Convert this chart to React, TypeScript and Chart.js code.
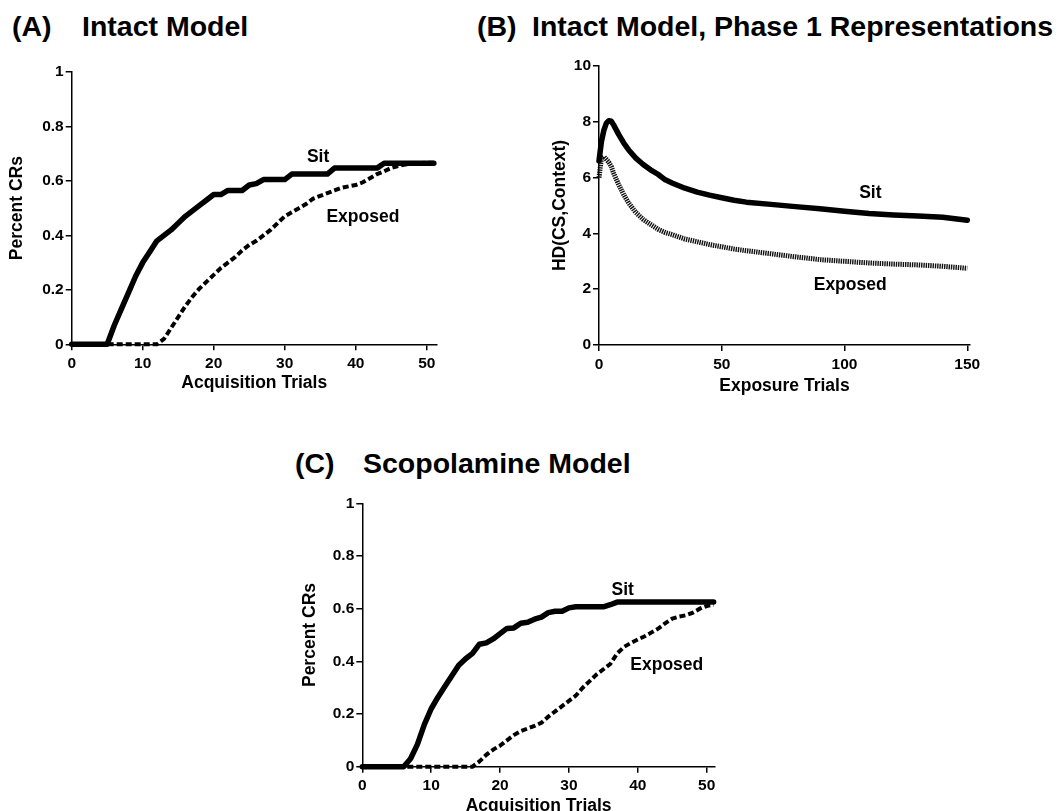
import React, { useEffect, useRef } from "react";
import { Chart, registerables } from "chart.js";

Chart.register(...registerables);

// ---------- Data ----------
const acqTrials = [
  0, 1, 2, 3, 4, 5, 6, 7, 8, 9, 10, 11, 12, 13, 14, 15, 16, 17, 18, 19, 20, 21, 22, 23, 24, 25,
  26, 27, 28, 29, 30, 31, 32, 33, 34, 35, 36, 37, 38, 39, 40, 41, 42, 43, 44, 45, 46, 47, 48, 49, 50, 51,
];

const intactSit = [
  0, 0, 0, 0, 0, 0, 0.07, 0.13, 0.19, 0.25, 0.3,
  0.34, 0.38, 0.4, 0.42, 0.445, 0.47, 0.49, 0.51, 0.53, 0.55,
  0.55, 0.565, 0.565, 0.565, 0.585, 0.59, 0.605, 0.605, 0.605, 0.605,
  0.625, 0.625, 0.625, 0.625, 0.625, 0.625, 0.647, 0.647, 0.647, 0.647,
  0.647, 0.647, 0.647, 0.665, 0.665, 0.665, 0.665, 0.665, 0.665, 0.665, 0.665,
];

const intactExposed = [
  0, 0, 0, 0, 0, 0, 0, 0, 0, 0, 0, 0, 0,
  0.02, 0.06, 0.1, 0.14, 0.175, 0.205, 0.23, 0.255, 0.28, 0.3, 0.32, 0.345, 0.365,
  0.38, 0.4, 0.42, 0.445, 0.47, 0.485, 0.5, 0.515, 0.535, 0.545, 0.555, 0.565,
  0.575, 0.58, 0.585, 0.595, 0.61, 0.625, 0.635, 0.648, 0.655, 0.66, 0.665, 0.665, 0.667, 0.667,
];

const scopSit = [
  0, 0, 0, 0, 0, 0, 0,
  0.03, 0.085, 0.16, 0.22, 0.265, 0.305, 0.345, 0.385, 0.41, 0.43, 0.465, 0.47, 0.485,
  0.505, 0.525, 0.527, 0.545, 0.548, 0.56, 0.568, 0.585, 0.59, 0.59, 0.603, 0.607,
  0.607, 0.607, 0.607, 0.607, 0.615, 0.625, 0.625, 0.625, 0.625, 0.625, 0.625, 0.625,
  0.625, 0.625, 0.625, 0.625, 0.625, 0.625, 0.625, 0.625,
];

const scopExposed = [
  0, 0, 0, 0, 0, 0, 0, 0, 0, 0, 0, 0, 0, 0, 0, 0, 0,
  0.02, 0.045, 0.065, 0.08, 0.1, 0.12, 0.135, 0.145, 0.155, 0.167, 0.19, 0.21, 0.23,
  0.25, 0.27, 0.3, 0.325, 0.35, 0.37, 0.39, 0.43, 0.455, 0.47, 0.483, 0.495, 0.51,
  0.525, 0.545, 0.562, 0.57, 0.575, 0.585, 0.6, 0.61, 0.615,
];

const exposureTrials = [
  0, 1, 2, 3, 4, 5, 6, 8, 10, 12, 15, 18, 21, 24, 27, 30, 35, 40, 45, 50, 55, 60, 70, 80, 90,
  100, 110, 120, 130, 140, 150,
];

const phase1Sit = [
  6.6, 7.3, 7.7, 7.95, 8.04, 8.02, 7.88, 7.55, 7.25, 7.0, 6.7, 6.47, 6.28, 6.12, 5.92, 5.8,
  5.62, 5.48, 5.37, 5.28, 5.19, 5.12, 5.04, 4.96, 4.88, 4.79, 4.71, 4.66, 4.62, 4.58, 4.47,
];

const phase1Exposed = [
  6.0, 6.7, 6.75, 6.65, 6.55, 6.4, 6.15, 5.75, 5.4, 5.1, 4.75, 4.5, 4.32, 4.15, 4.03, 3.95,
  3.8, 3.7, 3.6, 3.52, 3.44, 3.38, 3.27, 3.16, 3.06, 3.0, 2.94, 2.9, 2.87, 2.82, 2.75,
];

const acqXTicks = [0, 10, 20, 30, 40, 50];
const acqXTickLabels = ["0", "10", "20", "30", "40", "50"];
const pctYTicks = [0, 0.2, 0.4, 0.6, 0.8, 1];
const pctYTickLabels = ["0", "0.2", "0.4", "0.6", "0.8", "1"];
const expXTicks = [0, 50, 100, 150];
const expXTickLabels = ["0", "50", "100", "150"];
const hdYTicks = [0, 2, 4, 6, 8, 10];
const hdYTickLabels = ["0", "2", "4", "6", "8", "10"];

// ---------- Style ----------
const FONT = '"Liberation Sans", Arial, Helvetica, sans-serif';
const INK = "#000";

type Label = { text: string; x: number; y: number };

type PanelProps = {
  canvas: { left: number; top: number; width: number; height: number };
  area: { l: number; t: number; r: number; b: number };
  yTitleCenterX: number;
  xTitleCenterY: number;
  xs: number[];
  sit: number[];
  exposed: number[];
  exposedStyle: "dash" | "hatch";
  xMax: number;
  yMax: number;
  xTicks: number[];
  xTickLabels: string[];
  yTicks: number[];
  yTickLabels: string[];
  xTitle: string;
  yTitle: string;
  labels: Label[];
};

function Panel(p: PanelProps) {
  const ref = useRef<HTMLCanvasElement | null>(null);

  useEffect(() => {
    const c = ref.current;
    if (!c) return;
    const W = p.area.l - p.canvas.left;
    const padTop = p.area.t - p.canvas.top;
    const padRight = p.canvas.left + p.canvas.width - p.area.r;
    const titleLH = 17.5 * 1.2;
    const scaleBottom = p.xTitleCenterY + titleLH / 2;
    const H = scaleBottom - p.area.b;
    const padBottom = p.canvas.top + p.canvas.height - scaleBottom;
    const yTitlePad = p.yTitleCenterX - p.canvas.left - titleLH / 2;

    const labelPlugin = {
      id: "curveLabels",
      afterDatasetsDraw(chart: any) {
        const { ctx, scales } = chart;
        ctx.save();
        ctx.font = `bold 17.5px ${FONT}`;
        ctx.fillStyle = INK;
        ctx.textAlign = "center";
        ctx.textBaseline = "middle";
        for (const l of p.labels) {
          ctx.fillText(l.text, scales.x.getPixelForValue(l.x), scales.y.getPixelForValue(l.y));
        }
        ctx.restore();
      },
    };

    const tickFont = { family: FONT, size: 15.5, weight: "bold" as const };
    const titleFont = { family: FONT, size: 17.5, weight: "bold" as const };

    const exposedDs =
      p.exposedStyle === "dash"
        ? { borderWidth: 4, borderDash: [6, 3], borderColor: "#000", borderCapStyle: "butt" as const }
        : { borderWidth: 5, borderDash: [1.4, 0.9], borderColor: "#111", borderCapStyle: "butt" as const };

    const chart = new Chart(c, {
      type: "line",
      data: {
        datasets: [
          {
            label: "Sit",
            data: p.xs.map((x, i) => ({ x, y: p.sit[i] })),
            borderColor: INK,
            borderWidth: 5.5,
            pointRadius: 0,
            tension: 0,
            borderJoinStyle: "round",
            borderCapStyle: "round",
            clip: false as any,
          },
          {
            label: "Exposed",
            data: p.xs.map((x, i) => ({ x, y: p.exposed[i] })),
            pointRadius: 0,
            tension: 0,
            clip: false as any,
            ...exposedDs,
          },
        ],
      },
      options: {
        responsive: false,
        animation: false,
        devicePixelRatio: 1,
        layout: { padding: { left: 0, top: padTop, right: padRight, bottom: padBottom } },
        plugins: { legend: { display: false }, tooltip: { enabled: false }, title: { display: false } },
        scales: {
          x: {
            type: "linear",
            min: 0,
            max: p.xMax,
            afterBuildTicks: (s: any) => {
              s.ticks = p.xTicks.map((v) => ({ value: v }));
            },
            afterFit: (s: any) => {
              s.height = H;
            },
            ticks: {
              font: tickFont,
              color: INK,
              padding: 4,
              maxRotation: 0,
              autoSkip: false,
              callback: (_v: any, i: number) => p.xTickLabels[i],
            },
            grid: { display: true, drawOnChartArea: false, drawTicks: true, tickLength: 6, color: INK, lineWidth: 1.5 },
            border: { display: true, color: INK, width: 1.5 },
            title: { display: true, text: p.xTitle, font: titleFont, color: INK, padding: { top: 0, bottom: 0 } },
          },
          y: {
            type: "linear",
            min: 0,
            max: p.yMax,
            afterBuildTicks: (s: any) => {
              s.ticks = p.yTicks.map((v) => ({ value: v }));
            },
            afterFit: (s: any) => {
              s.width = W;
            },
            ticks: {
              font: tickFont,
              color: INK,
              padding: 2,
              autoSkip: false,
              callback: (_v: any, i: number) => p.yTickLabels[i],
            },
            grid: { display: true, drawOnChartArea: false, drawTicks: true, tickLength: 6, color: INK, lineWidth: 1.5 },
            border: { display: true, color: INK, width: 1.5 },
            title: { display: true, text: p.yTitle, font: titleFont, color: INK, padding: { top: yTitlePad, bottom: 0 } },
          },
        },
      } as any,
      plugins: [labelPlugin],
    });
    return () => chart.destroy();
  }, []);

  return (
    <canvas
      ref={ref}
      width={p.canvas.width}
      height={p.canvas.height}
      style={{
        position: "absolute",
        left: p.canvas.left,
        top: p.canvas.top,
        width: p.canvas.width,
        height: p.canvas.height,
      }}
    />
  );
}

const titleStyle: React.CSSProperties = {
  position: "absolute",
  fontFamily: FONT,
  fontWeight: "bold",
  fontSize: 28.5,
  lineHeight: 1,
  whiteSpace: "pre",
  color: INK,
};

export default function App() {
  return (
    <div
      style={{
        position: "fixed",
        left: 0,
        top: 0,
        width: 1059,
        height: 811,
        overflow: "hidden",
        background: "#fff",
      }}
    >
      <span style={{ ...titleStyle, left: 12, top: 12 }}>(A)</span>
      <span style={{ ...titleStyle, left: 82, top: 12 }}>Intact Model</span>
      <span style={{ ...titleStyle, left: 477, top: 12 }}>(B)</span>
      <span style={{ ...titleStyle, left: 532, top: 12 }}>Intact Model, Phase 1 Representations</span>
      <span style={{ ...titleStyle, left: 295, top: 449 }}>(C)</span>
      <span style={{ ...titleStyle, left: 363, top: 449 }}>Scopolamine Model</span>

      <Panel
        canvas={{ left: 0, top: 52, width: 460, height: 342 }}
        area={{ l: 71.7, t: 72, r: 436.7, b: 344.3 }}
        yTitleCenterX={17.5}
        xTitleCenterY={383}
        xs={acqTrials}
        sit={intactSit}
        exposed={intactExposed}
        exposedStyle="dash"
        xMax={51.4}
        yMax={1}
        xTicks={acqXTicks}
        xTickLabels={acqXTickLabels}
        yTicks={pctYTicks}
        yTickLabels={pctYTickLabels}
        xTitle="Acquisition Trials"
        yTitle="Percent CRs"
        labels={[
          { text: "Sit", x: 34.7, y: 0.688 },
          { text: "Exposed", x: 41.0, y: 0.468 },
        ]}
      />

      <Panel
        canvas={{ left: 530, top: 46, width: 1000 - 530, height: 351 }}
        area={{ l: 599, t: 66, r: 970, b: 345 }}
        yTitleCenterX={560}
        xTitleCenterY={386}
        xs={exposureTrials}
        sit={phase1Sit}
        exposed={phase1Exposed}
        exposedStyle="hatch"
        xMax={151.1}
        yMax={10}
        xTicks={expXTicks}
        xTickLabels={expXTickLabels}
        yTicks={hdYTicks}
        yTickLabels={hdYTickLabels}
        xTitle="Exposure Trials"
        yTitle="HD(CS,Context)"
        labels={[
          { text: "Sit", x: 110.5, y: 5.44 },
          { text: "Exposed", x: 102.3, y: 2.15 },
        ]}
      />

      <Panel
        canvas={{ left: 290, top: 483, width: 740 - 290, height: 334 }}
        area={{ l: 362.3, t: 503.3, r: 715, b: 766.7 }}
        yTitleCenterX={310}
        xTitleCenterY={806}
        xs={acqTrials}
        sit={scopSit}
        exposed={scopExposed}
        exposedStyle="dash"
        xMax={51.2}
        yMax={1}
        xTicks={acqXTicks}
        xTickLabels={acqXTickLabels}
        yTicks={pctYTicks}
        yTickLabels={pctYTickLabels}
        xTitle="Acquisition Trials"
        yTitle="Percent CRs"
        labels={[
          { text: "Sit", x: 37.8, y: 0.671 },
          { text: "Exposed", x: 44.2, y: 0.386 },
        ]}
      />
    </div>
  );
}
